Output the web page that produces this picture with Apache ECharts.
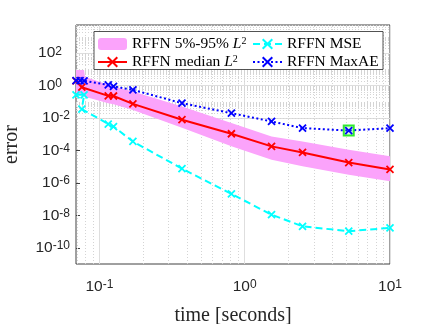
<!DOCTYPE html>
<html>
<head>
<meta charset="utf-8">
<script src="https://cdn.jsdelivr.net/npm/echarts@6/dist/echarts.min.js"></script>
<style>
html, body { margin: 0; padding: 0; background: #fff; }
#chart { width: 432px; height: 324px; }
</style>
</head>
<body>
<div id="chart"></div>
<script>
// run times [s]; the first few runs are not in time order
var medianX = [0.069, 0.0757, 0.115, 0.125, 0.17, 0.37, 0.81, 1.53, 2.5, 5.2, 10];
var medianY = [2.0, 0.8, 0.235, 0.23, 0.075, 0.0079, 1.08e-3, 1.8e-4, 7.6e-5, 1.8e-5, 6.8e-6];

var mseX = [0.069, 0.0784, 0.0757, 0.115, 0.125, 0.17, 0.37, 0.81, 1.53, 2.5, 5.2, 10];
var mseY = [0.27, 0.27, 0.036, 0.0043, 0.003, 3.6e-4, 7.6e-6, 2.1e-7, 1.1e-8, 2.1e-9, 1.05e-9, 1.7e-9];

var maxX = [0.069, 0.0736, 0.0784, 0.115, 0.125, 0.17, 0.37, 0.81, 1.53, 2.5, 5.2, 10];
var maxY = [2.05, 2.05, 2.0, 1.1, 0.9, 0.55, 0.083, 0.020, 0.0062, 0.0024, 0.0017, 0.0024];

// 5%-95% band edges
var bandX  = [0.069, 0.0784, 0.0795, 0.115, 0.125, 0.17, 0.37, 0.81, 1.53, 2.5, 5.2, 10];
var bandHi = [9.3, 9.3, 3.6, 1.12, 0.89, 0.44, 0.051, 0.0049, 7.4e-4, 3.6e-4, 1.12e-4, 4.4e-5];
var bandLo = [0.35, 0.22, 0.21, 0.083, 0.071, 0.032, 0.0025, 1.8e-4, 2.7e-5, 1.05e-5, 3.2e-6, 1.26e-6];

// highlighted point
var bestX = [5.2];
var bestY = [0.0017];

var xTicks = [0.1, 1, 10];
var yTicks = [1e-10, 1e-8, 1e-6, 1e-4, 1e-2, 1, 1e2];
var yDecades = [1e-11, 1e-10, 1e-9, 1e-8, 1e-7, 1e-6, 1e-5, 1e-4, 1e-3, 1e-2, 1e-1, 1, 1e1, 1e2, 1e3];

var labels = {
    band: 'RFFN 5%-95% {i|L}{s|2}',
    median: 'RFFN median {i|L}{s|2}',
    mse: 'RFFN MSE',
    maxae: 'RFFN MaxAE'
};

var X_MARK = 'path://M0 0L10 10M10 0L0 10';
var PINK = '#fba3fb';

function pairs(xs, ys) {
    return xs.map(function (x, i) { return [x, ys[i]]; });
}

function expLabel(v) {
    var e = Math.round(Math.log10(v));
    return '{b|10}{s|' + e + '}';
}

// y labels keep room for a minus sign, like the original
function yExpLabel(v) {
    var e = Math.round(Math.log10(v));
    return '{b|10}{s|' + e + '}' + (e >= 0 ? '{p| }' : '');
}

// grid lines: even decades solid, everything else dotted
var majorLines = [], minorLines = [];
yDecades.forEach(function (d) {
    var e = Math.round(Math.log10(d));
    (e % 2 === 0 ? majorLines : minorLines).push({yAxis: d});
    for (var k = 2; k <= 9; k++) {
        if (k * d < 5.5e3) minorLines.push({yAxis: k * d});
    }
});
[0.01, 0.1, 1].forEach(function (d) {
    if (d >= 0.1) majorLines.push({xAxis: d});
    for (var k = 2; k <= 9; k++) {
        var v = k * d;
        if (v > 0.069 && v < 10) minorLines.push({xAxis: v});
    }
});
majorLines.push({xAxis: 10});

var tickRich = {
    b: {fontSize: 15.5, lineHeight: 16, verticalAlign: 'bottom', fontFamily: 'Liberation Sans', color: '#262626'},
    s: {fontSize: 12, lineHeight: 10, verticalAlign: 'top', padding: [0, 0, 10, 0], fontFamily: 'Liberation Sans', color: '#262626'},
    p: {fontSize: 12, width: 8, lineHeight: 10}
};

var legendText = {
    fontFamily: 'Liberation Serif',
    fontSize: 15.5,
    color: '#000',
    lineHeight: 16,
    rich: {
        i: {fontFamily: 'Liberation Serif', fontStyle: 'italic', fontSize: 15.5, lineHeight: 16, color: '#000'},
        s: {fontFamily: 'Liberation Serif', fontSize: 10, lineHeight: 8, verticalAlign: 'top', color: '#000'}
    }
};

function legendAt(left, names) {
    return {
        left: left, top: 36, orient: 'vertical', padding: 0,
        itemWidth: 29, itemHeight: 12, itemGap: 2,
        data: names,
        formatter: function (n) { return labels[n]; },
        textStyle: legendText,
        selectedMode: false
    };
}

var option = {
    animation: false,
    grid: {
        left: 76, top: 25, right: 42, bottom: 60,
        outerBoundsMode: 'none',
        show: true, borderColor: '#404040', borderWidth: 1
    },
    legend: [legendAt(97, ['band', 'median']), legendAt(252, ['mse', 'maxae'])],
    graphic: [{
        type: 'rect', z: 3,
        shape: {x: 94, y: 31.5, width: 289, height: 38},
        style: {fill: '#fff', stroke: '#262626', lineWidth: 0.8}
    }],
    xAxis: {
        type: 'log', min: 0.069, max: 10,
        name: 'time [seconds]', nameLocation: 'middle', nameGap: 36,
        nameTextStyle: {fontFamily: 'Liberation Serif', fontSize: 20, color: '#262626'},
        axisLine: {show: false},
        axisTick: {inside: true, length: 4, customValues: xTicks, lineStyle: {color: '#404040'}},
        axisLabel: {customValues: xTicks, margin: 15, formatter: expLabel, rich: tickRich},
        splitLine: {show: false}
    },
    yAxis: {
        type: 'log', min: 1e-11, max: 5.5e3,
        name: 'error', nameLocation: 'middle', nameGap: 54,
        nameTextStyle: {fontFamily: 'Liberation Serif', fontSize: 20, color: '#262626'},
        axisLine: {show: false},
        axisTick: {inside: true, length: 4, customValues: yTicks, lineStyle: {color: '#404040'}},
        axisLabel: {customValues: yTicks, margin: 6, formatter: yExpLabel, rich: tickRich},
        splitLine: {show: false}
    },
    series: [
        {
            name: 'grid', type: 'line', data: [], z: 1, silent: true,
            markLine: {
                silent: true, symbol: 'none', z: 1, animation: false,
                label: {show: false},
                data: majorLines.map(function (m) {
                    return Object.assign({lineStyle: {color: '#dedede', width: 1, type: 'solid'}}, m);
                }).concat(minorLines.map(function (m) {
                    return Object.assign({lineStyle: {color: '#d4d4d4', width: 1, type: [1, 2]}}, m);
                }))
            }
        },
        {
            name: 'band', type: 'custom', z: 2,
            itemStyle: {color: PINK},
            data: bandX.map(function (x, i) { return [x, bandLo[i], bandHi[i]]; }),
            encode: {x: 0, y: [1, 2]},
            renderItem: function (params, api) {
                if (params.dataIndex !== 0) return null;
                var pts = [];
                for (var i = 0; i < bandX.length; i++) pts.push(api.coord([bandX[i], bandHi[i]]));
                for (var j = bandX.length - 1; j >= 0; j--) pts.push(api.coord([bandX[j], bandLo[j]]));
                return {type: 'polygon', shape: {points: pts}, style: {fill: PINK}};
            }
        },
        {
            name: 'median', type: 'line', z: 3,
            data: pairs(medianX, medianY),
            symbol: X_MARK, symbolSize: 7,
            itemStyle: {color: '#ff0000', borderColor: '#ff0000', borderWidth: 1.8},
            lineStyle: {color: '#ff0000', width: 2}
        },
        {
            name: 'mse', type: 'line', z: 3,
            data: pairs(mseX, mseY),
            symbol: X_MARK, symbolSize: 7,
            itemStyle: {color: '#00ffff', borderColor: '#00ffff', borderWidth: 1.8},
            lineStyle: {color: '#00ffff', width: 2, type: [7, 4]}
        },
        {
            name: 'best', type: 'scatter', z: 3,
            data: pairs(bestX, bestY),
            symbol: 'rect', symbolSize: 10,
            itemStyle: {color: 'rgba(0,255,0,0.2)', borderColor: '#00e600', borderWidth: 2}
        },
        {
            name: 'maxae', type: 'line', z: 3,
            data: pairs(maxX, maxY),
            symbol: X_MARK, symbolSize: 7,
            itemStyle: {color: '#0000ff', borderColor: '#0000ff', borderWidth: 1.8},
            lineStyle: {color: '#0000ff', width: 2, type: [2, 2.5]}
        }
    ]
};

var myChart = echarts.init(document.getElementById('chart'));
myChart.setOption(option);
</script>
</body>
</html>
